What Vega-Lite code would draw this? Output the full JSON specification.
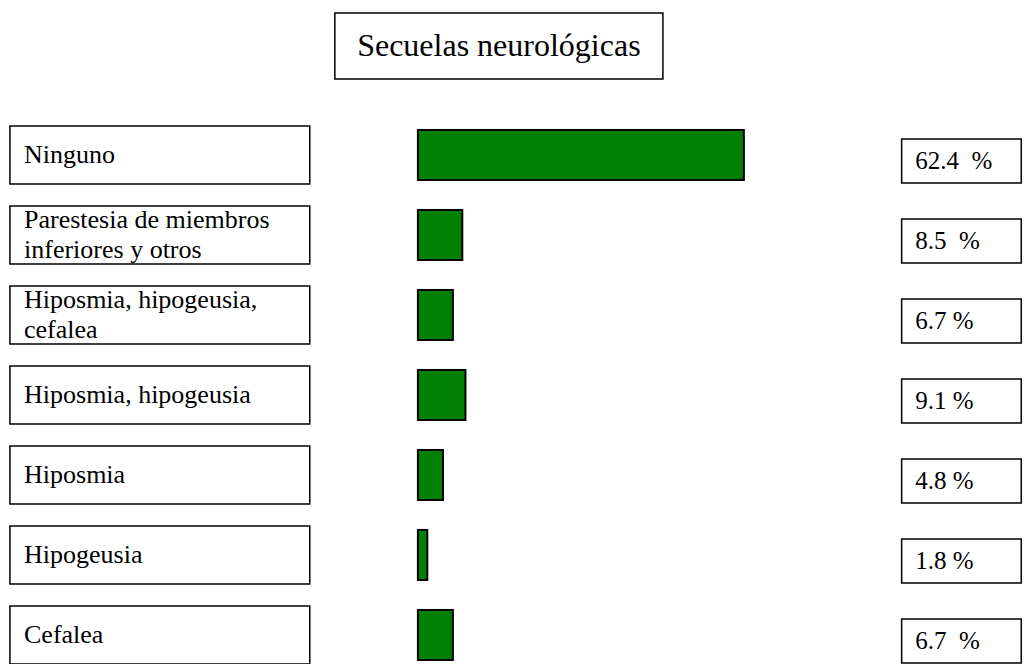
{
  "$schema": "https://vega.github.io/schema/vega-lite/v6.json",
  "padding": {"left": 0, "right": 0, "top": 12, "bottom": 0},
  "spacing": 48,
  "bounds": "flush",
  "background": "white",
  "config": {"view": {"stroke": null}, "text": {"font": "Liberation Serif"}},
  "datasets": {
    "secuelas": [
      {"secuela": "Ninguno", "pct": 62.4, "etiqueta": "62.4\u00a0 %"},
      {"secuela": "Parestesia de miembros\ninferiores y otros", "pct": 8.5, "etiqueta": "8.5\u00a0 %"},
      {"secuela": "Hiposmia, hipogeusia,\ncefalea", "pct": 6.7, "etiqueta": "6.7 %"},
      {"secuela": "Hiposmia, hipogeusia", "pct": 9.1, "etiqueta": "9.1 %"},
      {"secuela": "Hiposmia", "pct": 4.8, "etiqueta": "4.8 %"},
      {"secuela": "Hipogeusia", "pct": 1.8, "etiqueta": "1.8 %"},
      {"secuela": "Cefalea", "pct": 6.7, "etiqueta": "6.7\u00a0 %"}
    ],
    "titulo": [{"t": "Secuelas neurológicas"}]
  },
  "vconcat": [
    {
      "width": 1027,
      "height": 66,
      "data": {"name": "titulo"},
      "layer": [
        {
          "mark": {"type": "rect", "fill": "white", "stroke": "black", "strokeWidth": 1.5},
          "encoding": {
            "x": {"datum": -15.9, "type": "quantitative", "scale": {"domain": [-80, 116.6], "nice": false, "zero": false}, "axis": null},
            "x2": {"datum": 46.9}
          }
        },
        {
          "mark": {"type": "text", "font": "Liberation Serif", "fontSize": 32, "baseline": "middle", "align": "center", "color": "black"},
          "encoding": {
            "x": {"datum": 15.5, "type": "quantitative"},
            "text": {"field": "t", "type": "nominal"}
          }
        }
      ]
    },
    {
      "width": 1027,
      "height": 536,
      "data": {"name": "secuelas"},
      "encoding": {
        "y": {"field": "secuela", "type": "nominal", "sort": null, "axis": null, "scale": {"type": "point", "padding": 0.35}}
      },
      "layer": [
        {
          "mark": {"type": "bar", "fill": "white", "stroke": "black", "strokeWidth": 1.5, "size": 58},
          "encoding": {
            "x": {"datum": -78.1, "type": "quantitative", "scale": {"domain": [-80, 116.6], "nice": false, "zero": false}, "axis": null},
            "x2": {"datum": -20.7}
          }
        },
        {
          "transform": [{"filter": "indexof(datum.secuela, '\\n') < 0"}],
          "mark": {"type": "text", "align": "left", "baseline": "middle", "fontSize": 26, "color": "black"},
          "encoding": {
            "x": {"datum": -75.4, "type": "quantitative"},
            "text": {"field": "secuela", "type": "nominal"}
          }
        },
        {
          "transform": [{"filter": "indexof(datum.secuela, '\\n') >= 0"}],
          "mark": {"type": "text", "align": "left", "baseline": "middle", "fontSize": 26, "lineBreak": "\n", "lineHeight": 30, "dy": -15, "color": "black"},
          "encoding": {
            "x": {"datum": -75.4, "type": "quantitative"},
            "text": {"field": "secuela", "type": "nominal"}
          }
        },
        {
          "mark": {"type": "bar", "fill": "#008000", "stroke": "black", "strokeWidth": 2, "size": 50},
          "encoding": {
            "x": {"field": "pct", "type": "quantitative"}
          }
        },
        {
          "mark": {"type": "bar", "fill": "white", "stroke": "black", "strokeWidth": 1.5, "size": 44, "yOffset": 6},
          "encoding": {
            "x": {"datum": 92.6, "type": "quantitative"},
            "x2": {"datum": 115.5}
          }
        },
        {
          "mark": {"type": "text", "align": "left", "baseline": "middle", "fontSize": 25, "yOffset": 6, "color": "black"},
          "encoding": {
            "x": {"datum": 95.2, "type": "quantitative"},
            "text": {"field": "etiqueta", "type": "nominal"}
          }
        }
      ]
    }
  ]
}
